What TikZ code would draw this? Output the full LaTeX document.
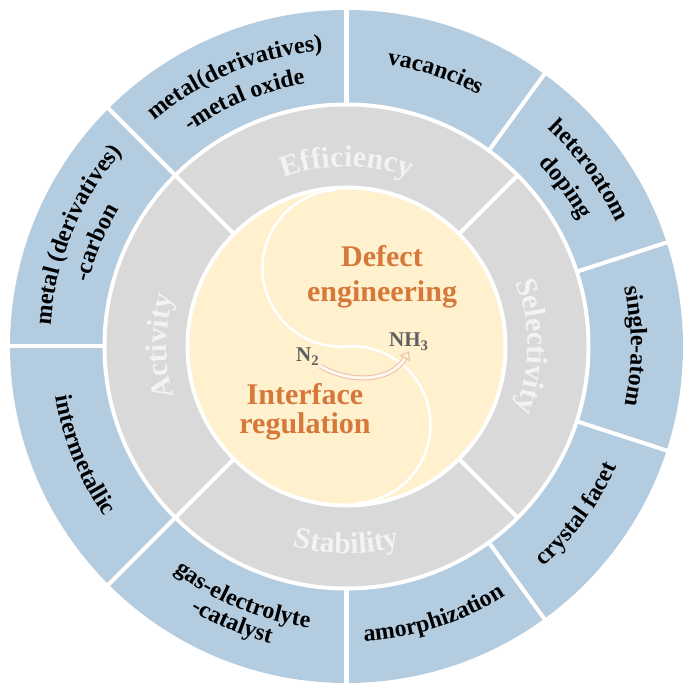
\documentclass[tikz,border=0pt]{standalone}
\usepackage{fontspec}
\setmainfont{Liberation Serif}
\usepackage{tikz}
\usetikzlibrary{arrows.meta,positioning,decorations.text}

\definecolor{ringblue}{RGB}{180,204,224}
\definecolor{ringgray}{RGB}{217,217,217}
\definecolor{coreyellow}{RGB}{255,241,206}
\definecolor{coreorange}{RGB}{214,120,58}
\definecolor{gastext}{RGB}{95,95,95}
\definecolor{arrowpink}{RGB}{236,190,172}
\definecolor{ringtext}{RGB}{243,243,243}

\newcommand{\outerfont}{\bfseries\fontsize{24}{24}\selectfont}
\newcommand{\ringfont}{\color{ringtext}\bfseries\fontsize{30}{30}\selectfont}
% text on an arc, clockwise (letters point outward)
\newcommand{\cwlabel}[4]{%
  \path[decorate, decoration={text along path, text={|#3|#4}, text align=center}]
    (#1+40:#2) arc[start angle=#1+40, end angle=#1-40, radius=#2];%
}
% text on an arc, counterclockwise (letters point inward)
\newcommand{\ccwlabel}[4]{%
  \path[decorate, decoration={text along path, text={|#3|#4}, text align=center}]
    (#1-40:#2) arc[start angle=#1-40, end angle=#1+40, radius=#2];%
}

\begin{document}
\begin{tikzpicture}[
  sep/.style={
    draw=white,
    line width=4pt
  },
  core/.style={
    font=\bfseries\fontsize{30}{35}\selectfont,
    text=coreorange,
    align=center,
    inner sep=0pt
  },
  gas/.style={
    font=\bfseries\fontsize{21}{21}\selectfont,
    text=gastext,
    inner sep=1pt
  },
  turn/.style={
    draw=arrowpink,
    line width=1pt,
    double=coreyellow!40!white,
    double distance=3pt,
    -{Triangle[open, length=8pt, width=12pt]}
  }
]
\useasboundingbox (-346.5pt,-346.5pt) rectangle (346.5pt,346.5pt);

% Rings
\fill[ringblue] (0,0) circle[radius=336.5pt];
\fill[white] (0,0) circle[radius=244pt];
\fill[ringgray] (0,0) circle[radius=240pt];
\fill[white] (0,0) circle[radius=161pt];
\fill[coreyellow] (0,0) circle[radius=157pt];

% Spokes
\foreach \a in {90,54,18,-18,-54,-90,-135,180,135}
  \draw[sep] (\a:242pt) -- (\a:338pt);
\foreach \a in {45,135,225,315}
  \draw[sep] (\a:159pt) -- (\a:242pt);

% S curve in the core
\draw[white, line width=2.5pt, rotate=4]
  (90:157pt) arc[start angle=90, end angle=270, radius=78.5pt]
  arc[start angle=90, end angle=-90, radius=78.5pt];

% Outer ring labels
\cwlabel{112.5}{296.5pt}{\outerfont}{metal(derivatives)}
\cwlabel{112.5}{265.5pt}{\outerfont}{-metal oxide}
\cwlabel{72}{284.5pt}{\outerfont}{vacancies}
\cwlabel{36}{296.5pt}{\outerfont}{heteroatom}
\cwlabel{36}{265.5pt}{\outerfont}{doping}
\cwlabel{0}{284.5pt}{\outerfont}{single-atom}
\ccwlabel{-36}{295.5pt}{\outerfont}{crystal facet}
\ccwlabel{-72}{295.5pt}{\outerfont}{amorphization}
\ccwlabel{-112.5}{283.5pt}{\outerfont}{gas-electrolyte}
\ccwlabel{-112.5}{306.5pt}{\outerfont}{-catalyst}
\ccwlabel{-157.5}{295.5pt}{\outerfont}{intermetallic}
\cwlabel{157.5}{296.5pt}{\outerfont}{metal (derivatives)}
\cwlabel{157.5}{265.5pt}{\outerfont}{-carbon}

% Middle ring labels
\cwlabel{90}{180pt}{\ringfont}{Efficiency}
\cwlabel{0}{181pt}{\ringfont}{Selectivity}
\cwlabel{180}{180pt}{\ringfont}{Activity}
\ccwlabel{-90}{207pt}{\ringfont}{Stability}

% Core
\node[core] (defect) at (35.5pt,69.3pt) {Defect\\engineering};
\node[core, font=\bfseries\fontsize{30}{29}\selectfont] (interface) at (-41.5pt,-65.1pt) {Interface\\regulation};
\node[gas, anchor=base west] (ntwo) at (-51.5pt,-15.5pt) {N\textsubscript{2}};
\node[gas, anchor=base west] (nhthree) at (41.5pt,-0.5pt) {NH\textsubscript{3}};
\draw[turn] (ntwo.south east) to[out=-30, in=-120] (nhthree.south);

\end{tikzpicture}
\end{document}
